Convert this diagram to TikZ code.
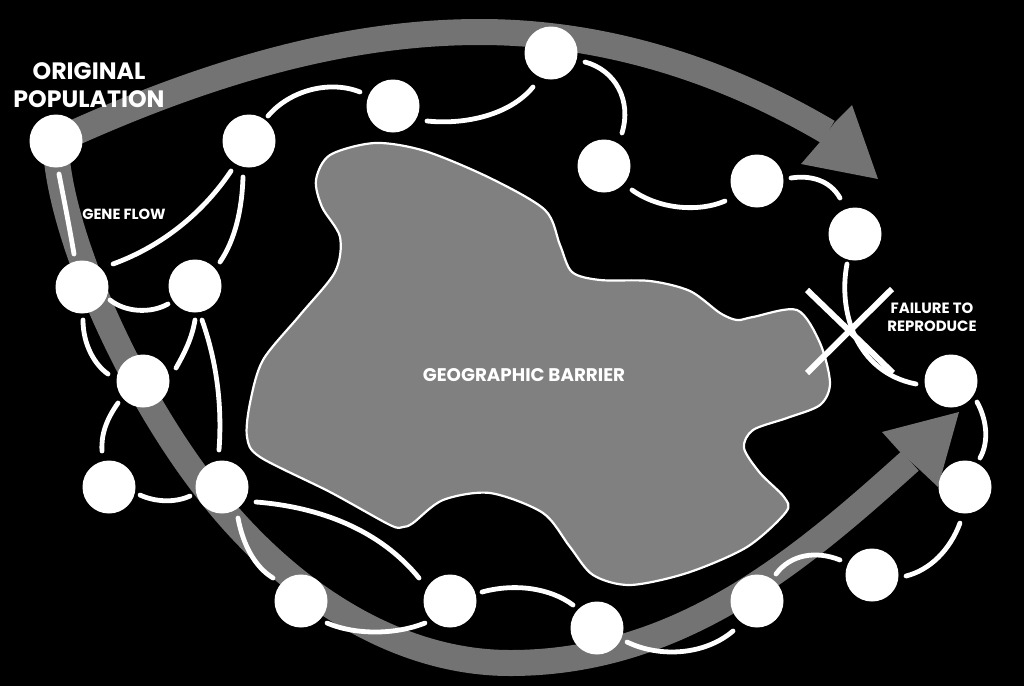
\documentclass[tikz,border=0pt]{standalone}
\usepackage{fontspec}
\setmainfont{Poppins}
\definecolor{arrowgray}{gray}{0.45}
\definecolor{landgray}{gray}{0.5}
\tikzset{x=1pt,y=-1pt,
 pop/.style={circle,fill=white,minimum size=53pt,inner sep=0pt},
 link/.style={draw=white,line width=4.8pt,line cap=round},
 big/.style={draw=arrowgray,line width=26pt},
 lab/.style={text=white,align=center,inner sep=0pt}}
\begin{document}
\begin{tikzpicture}
\useasboundingbox[fill=black] (0,0) rectangle (1024,686);
% big arrows
\draw[big] (56,141) .. controls (200,75) and (340,32) .. (480,32) .. controls (620,32) and (740,80) .. (828,132);
\fill[arrowgray] (852,105) -- (878,179) -- (801,164) -- (820,142) -- (835,122) -- cycle;
\draw[big] (56,150) .. controls (62,240) and (130,390) .. (205,487) .. controls (280,585) and (390,663) .. (510,663) .. controls (680,663) and (800,560) .. (910,461);
\fill[arrowgray] (959,412) -- (938,487) -- (920,470) -- (900,452) -- (882,432) -- cycle;
% barrier
\path[fill=landgray,draw=white,line width=2.2pt] plot[smooth cycle,tension=.5] coordinates {
 (375,143) (330,155) (316,180) (322,207) (340,237) (335,272) (300,315) (263,360) (250,403) (247,437) (260,457)
 (330,492) (390,525) (403,527) (413,523) (443,500) (490,493) (543,513) (570,547) (593,575) (630,585) (687,573) (747,547) (786,512)
 (784,497) (760,473) (744,448) (753,430) (787,418) (820,405) (830,383) (820,343) (797,310) (753,317) (737,320) (720,313) (690,291) (650,281)
 (600,280) (572,272) (560,245) (545,210) (490,178) (425,151)};
% links
\draw[link] (59,174) .. controls (64,200) and (70,230) .. (74,254);
\draw[link] (113,264) .. controls (165,245) and (205,210) .. (231,171);
\draw[link] (220,262) .. controls (235,240) and (242,210) .. (243,177);
\draw[link] (110,300) .. controls (125,312) and (150,314) .. (168,304);
\draw[link] (83,320) .. controls (83,345) and (95,365) .. (108,374);
\draw[link] (176,368) .. controls (185,352) and (192,338) .. (195,320);
\draw[link] (202,320) .. controls (218,365) and (222,410) .. (219,450);
\draw[link] (118,403) .. controls (106,420) and (101,435) .. (102,451);
\draw[link] (140,495) .. controls (155,502) and (175,503) .. (190,496);
\draw[link] (238,518) .. controls (243,545) and (255,567) .. (273,578);
\draw[link] (256,502) .. controls (320,507) and (380,530) .. (419,578);
\draw[link] (327,623) .. controls (355,635) and (395,635) .. (425,623);
\draw[link] (482,592) .. controls (515,583) and (550,588) .. (573,605);
\draw[link] (627,642) .. controls (660,658) and (705,655) .. (733,631);
\draw[link] (776,574) .. controls (790,555) and (815,550) .. (840,560);
\draw[link] (906,576) .. controls (930,570) and (950,550) .. (960,523);
\draw[link] (977,402) .. controls (987,420) and (989,442) .. (980,458);
\draw[link] (847,264) .. controls (838,310) and (855,372) .. (916,384);
\draw[link] (791,178) .. controls (810,175) and (830,180) .. (840,198);
\draw[link] (632,190) .. controls (660,210) and (700,212) .. (725,201);
\draw[link] (585,62) .. controls (615,70) and (632,100) .. (622,133);
\draw[link] (427,121) .. controls (465,125) and (510,115) .. (533,87);
\draw[link] (268,116) .. controls (290,90) and (330,80) .. (360,92);
% X
\draw[draw=white,line width=6pt] (807,290) -- (893,373);
\draw[draw=white,line width=6pt] (892,289) -- (807,373);
% populations
\foreach \n/\x/\y in {n1/56/141,n2/249/141,n3/393/106,n4/551/53,n5/604/166,n6/757/181,n7/855/234,n8/951/381,n9/965/487,n10/872/575,n11/757/601,n12/597/628,n13/450/601,n14/301/601,n15/222/487,n16/109/487,n17/143/381,n18/82/287,n19/195/286}
 \node[pop] (\n) at (\x,\y) {};
% labels
\node[lab,font=\bfseries\fontsize{23.7}{28}\selectfont] (t1) at (89,85) {ORIGINAL\\POPULATION};
\node[lab,font=\bfseries\fontsize{14.7}{16}\selectfont] (t2) at (124,214) {GENE FLOW};
\node[lab,font=\bfseries\fontsize{18.3}{19}\selectfont] (t3) at (524,375) {GEOGRAPHIC BARRIER};
\node[lab,font=\bfseries\fontsize{14.9}{18}\selectfont] (t4) at (932,317) {FAILURE TO\\REPRODUCE};
\end{tikzpicture}
\end{document}
